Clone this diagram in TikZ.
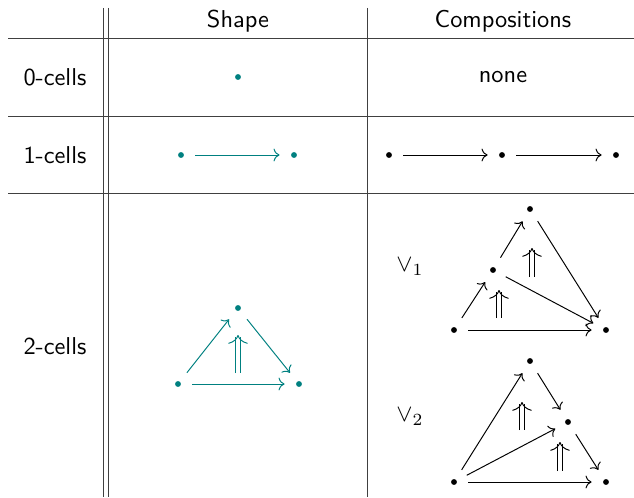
\documentclass[tikz,border=0pt]{standalone}
\usetikzlibrary{arrows.meta,cd,calc}
\definecolor{tealc}{RGB}{0,128,128}
\begin{document}
\begin{tikzpicture}[x=0.41pt,y=-0.41pt,
  font=\sffamily,
  rule/.style={draw=black!75, line width=0.4pt},
  dot/.style={circle, fill, inner sep=0pt, minimum size=2.4pt},
  arr/.style={-{tikzcd to}, line width=0.4pt, shorten <=4.5pt, shorten >=4.5pt},
  shaft/.style={double equal sign distance, line width=0.4pt, shorten >=0.8pt},
  head/.style={-{Computer Modern Rightarrow[width=8pt,length=3.6pt]}, line width=0.4pt},
  lbl/.style={inner sep=0pt}]
\useasboundingbox (0,0) rectangle (634,497);
% table rules
\coordinate (h1l) at (8,38);   \coordinate (h1r) at (634,38);
\coordinate (h2l) at (8,116);  \coordinate (h2r) at (634,116);
\coordinate (h3l) at (8,193);  \coordinate (h3r) at (634,193);
\coordinate (v1t) at (103,8);  \coordinate (v1b) at (103,497);
\coordinate (v2t) at (108,8);  \coordinate (v2b) at (108,497);
\coordinate (v3t) at (367,8);  \coordinate (v3b) at (367,497);
\draw[rule] (h1l) -- (h1r);
\draw[rule] (h2l) -- (h2r);
\draw[rule] (h3l) -- (h3r);
\draw[rule] (v1t) -- (v1b);
\draw[rule] (v2t) -- (v2b);
\draw[rule] (v3t) -- (v3b);
% headers
\node[lbl] (hshape) at (238,21) {Shape};
\node[lbl] (hcomp) at (503,21) {Compositions};
\node[lbl] (r0) at (55,77) {0-cells};
\node[lbl] (r1) at (55,155) {1-cells};
\node[lbl] (r2) at (55,346) {2-cells};
\node[lbl] (none) at (503,77) {none};
% 0-cell shape
\node[dot, tealc] (z) at (238,77) {};
% 1-cell shape
\node[dot, tealc] (oa) at (181,155) {};
\node[dot, tealc] (ob) at (294,155) {};
\draw[arr, tealc] (oa) -- (ob);
% 1-cell compositions
\node[dot] (ca) at (389,155) {};
\node[dot] (cb) at (502,155) {};
\node[dot] (cc) at (616,155) {};
\draw[arr] (ca) -- (cb);
\draw[arr] (cb) -- (cc);
% 2-cell shape
\node[dot, tealc] (sa) at (178,384) {};
\node[dot, tealc] (sb) at (238,308) {};
\node[dot, tealc] (sc) at (299,384) {};
\draw[arr, tealc] (sa) -- (sb);
\draw[arr, tealc] (sb) -- (sc);
\draw[arr, tealc] (sa) -- (sc);
\coordinate (st0) at (238,373);
\coordinate (st1) at (238,335);
\draw[shaft, tealc] (st0) -- (st1);
\draw[head, tealc] ($(st1)!0.03!(st0)$) -- (st1);
% V1
\node[lbl] (lv1) at (410,267) {$\vee_1$};
\node[dot] (pa) at (454,330) {};
\node[dot] (pb) at (493,270) {};
\node[dot] (pc) at (530,209) {};
\node[dot] (pd) at (606,330) {};
\draw[arr] (pa) -- (pb);
\draw[arr] (pb) -- (pc);
\draw[arr] (pc) -- (pd);
\draw[arr] (pb) -- (pd);
\draw[arr] (pa) -- (pd);
\coordinate (p10) at (499,318);
\coordinate (p11) at (499,290);
\coordinate (p20) at (532,277);
\coordinate (p21) at (532,248);
\draw[shaft] (p10) -- (p11);
\draw[head] ($(p11)!0.03!(p10)$) -- (p11);
\draw[shaft] (p20) -- (p21);
\draw[head] ($(p21)!0.03!(p20)$) -- (p21);
% V2
\node[lbl] (lv2) at (410,417) {$\vee_2$};
\node[dot] (qa) at (454,482) {};
\node[dot] (qb) at (530,361) {};
\node[dot] (qc) at (568,422) {};
\node[dot] (qd) at (606,482) {};
\draw[arr] (qa) -- (qb);
\draw[arr] (qb) -- (qc);
\draw[arr] (qc) -- (qd);
\draw[arr] (qa) -- (qc);
\draw[arr] (qa) -- (qd);
\coordinate (q10) at (522,430);
\coordinate (q11) at (522,402);
\coordinate (q20) at (560,471);
\coordinate (q21) at (560,442);
\draw[shaft] (q10) -- (q11);
\draw[head] ($(q11)!0.03!(q10)$) -- (q11);
\draw[shaft] (q20) -- (q21);
\draw[head] ($(q21)!0.03!(q20)$) -- (q21);
\end{tikzpicture}
\end{document}
